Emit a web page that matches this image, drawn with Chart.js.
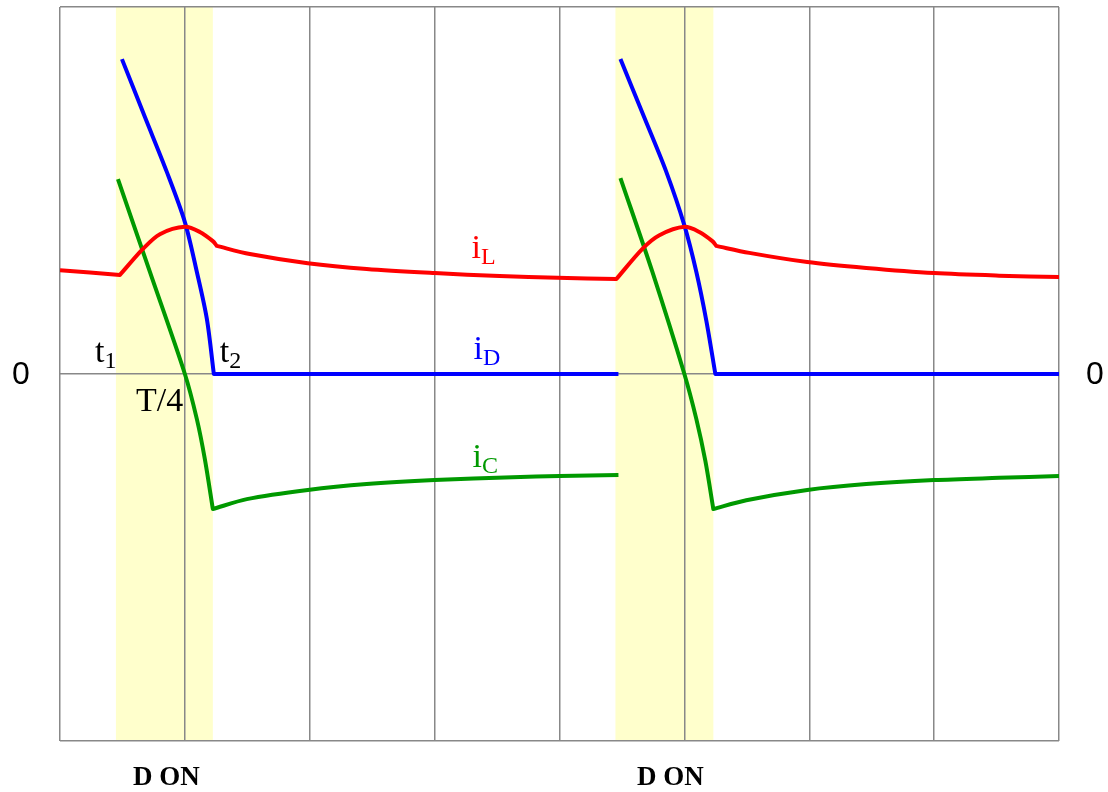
<!DOCTYPE html>
<html>
<head>
<meta charset="utf-8">
<script src="https://cdn.jsdelivr.net/npm/chart.js@4/dist/chart.umd.min.js"></script>
<style>
  body { margin: 0; background: #fff; }
  #wrap { width: 1108px; height: 792px; }
</style>
</head>
<body>
<div id="wrap"><canvas id="chart" width="1108" height="792"></canvas></div>
<script>
// time axis in grid units (one grid column = T/4), current in arbitrary units
// points listed twice mark a corner (switching instant)
const iLx = [0, 0.48, 0.48, 0.664, 0.80, 1.0, 1.12, 1.224, 1.256, 1.256, 1.52, 1.984, 2.456, 3.0, 3.52, 3.984, 4.456, 4.456,
             4.664, 4.80, 5.0, 5.12, 5.224, 5.256, 5.256, 5.52, 5.984, 6.456, 7.0, 7.52, 8.0];
const iLy = [0.283, 0.270, 0.270, 0.341, 0.381, 0.401, 0.387, 0.362, 0.349, 0.349, 0.327, 0.302, 0.286, 0.275, 0.267, 0.262, 0.259, 0.259,
             0.341, 0.378, 0.401, 0.387, 0.362, 0.349, 0.349, 0.330, 0.305, 0.289, 0.275, 0.268, 0.264];

const iD1x = [0.496, 0.68, 0.856, 1.0, 1.096, 1.176, 1.232, 1.232, 4.472];
const iD1y = [0.858, 0.700, 0.550, 0.414, 0.278, 0.150, 0, 0, 0];
const iD2x = [4.488, 4.68, 4.856, 5.0, 5.096, 5.176, 5.248, 5.248, 8.0];
const iD2y = [0.858, 0.698, 0.550, 0.405, 0.278, 0.145, 0, 0, 0];

const iC1x = [0.464, 0.72, 1.0, 1.096, 1.16, 1.224, 1.224, 1.496, 1.984, 2.456, 3.0, 3.624, 4.0, 4.472];
const iC1y = [0.531, 0.278, 0, -0.123, -0.232, -0.368, -0.368, -0.341, -0.316, -0.300, -0.289, -0.281, -0.278, -0.275];
const iC2x = [4.488, 4.744, 5.0, 5.096, 5.168, 5.232, 5.232, 5.496, 5.984, 6.456, 7.0, 7.52, 8.0];
const iC2y = [0.534, 0.278, 0, -0.123, -0.237, -0.368, -0.368, -0.344, -0.316, -0.300, -0.289, -0.283, -0.278];

// diode conduction intervals (t1 .. t2) for both periods
const bandStart = [0.448, 4.448];
const bandEnd = [1.224, 5.232];

const toPoints = (xs, ys) => xs.map((x, i) => ({x: x, y: ys[i]}));

const serif = '"Liberation Serif", "Times New Roman", serif';

// labels placed in data coordinates
const curveLabels = [
    {main: 't', sub: '1', x: 0.28, y: 0.032, color: '#000'},
    {main: 't', sub: '2', x: 1.28, y: 0.032, color: '#000'},
    {main: 'T/4', sub: '', x: 0.608, y: -0.101, color: '#000'},
    {main: 'i', sub: 'L', x: 3.296, y: 0.316, color: '#ff0000'},
    {main: 'i', sub: 'D', x: 3.312, y: 0.041, color: '#0000ff'},
    {main: 'i', sub: 'C', x: 3.304, y: -0.253, color: '#009900'}
];

const bands = {
    id: 'bands',
    beforeDraw(chart) {
        const {ctx, chartArea, scales} = chart;
        ctx.save();
        ctx.fillStyle = '#ffffcc';
        bandStart.forEach((s, i) => {
            const x0 = scales.x.getPixelForValue(s);
            const x1 = scales.x.getPixelForValue(bandEnd[i]);
            ctx.fillRect(x0, chartArea.top, x1 - x0, chartArea.bottom - chartArea.top);
        });
        ctx.restore();
    }
};

const labels = {
    id: 'labels',
    afterDraw(chart) {
        const {ctx, chartArea, scales} = chart;
        ctx.save();
        ctx.textAlign = 'left';
        ctx.textBaseline = 'alphabetic';
        curveLabels.forEach(l => {
            const px = scales.x.getPixelForValue(l.x);
            const py = scales.y.getPixelForValue(l.y);
            ctx.fillStyle = l.color;
            ctx.font = '34px ' + serif;
            ctx.fillText(l.main, px, py);
            const w = ctx.measureText(l.main).width;
            if (l.sub) {
                ctx.font = '24px ' + serif;
                ctx.fillText(l.sub, px + w, py + 6);
            }
        });

        // zero markers on both sides
        const y0 = scales.y.getPixelForValue(0);
        ctx.fillStyle = '#000';
        ctx.font = '32px "Liberation Sans", Arial, sans-serif';
        ctx.textAlign = 'center';
        ctx.textBaseline = 'middle';
        ctx.fillText('0', chartArea.left - 39, y0 + 1);
        ctx.fillText('0', chartArea.right + 36, y0 + 1);

        // conduction interval captions
        ctx.font = 'bold 27px ' + serif;
        ctx.textBaseline = 'alphabetic';
        bandStart.forEach((s, i) => {
            const cx = scales.x.getPixelForValue((s + bandEnd[i]) / 2);
            ctx.fillText('D ON', cx + 2 + i * 4, chartArea.bottom + 44);
        });
        ctx.restore();
    }
};

const gridColor = '#888888';
const line = (xs, ys, color) => ({data: toPoints(xs, ys), borderColor: color, borderWidth: 4});

new Chart(document.getElementById('chart'), {
    type: 'line',
    data: {
        datasets: [
            line(iLx, iLy, '#ff0000'),
            line(iD1x, iD1y, '#0000ff'),
            line(iD2x, iD2y, '#0000ff'),
            line(iC1x, iC1y, '#009900'),
            line(iC2x, iC2y, '#009900')
        ]
    },
    options: {
        responsive: false,
        animation: false,
        events: [],
        elements: {
            point: {radius: 0},
            line: {tension: 0.3, borderCapStyle: 'butt', borderJoinStyle: 'round'}
        },
        layout: {padding: {left: 60, right: 49, top: 7, bottom: 51}},
        plugins: {legend: {display: false}, tooltip: {enabled: false}},
        scales: {
            x: {
                type: 'linear', min: 0, max: 8,
                ticks: {display: false, stepSize: 1},
                grid: {color: gridColor, lineWidth: 1.5, drawTicks: false},
                border: {display: false}
            },
            y: {
                min: -1, max: 1,
                ticks: {display: false, stepSize: 1},
                grid: {color: gridColor, lineWidth: 1.5, drawTicks: false},
                border: {display: false}
            }
        }
    },
    plugins: [bands, labels]
});
</script>
</body>
</html>
